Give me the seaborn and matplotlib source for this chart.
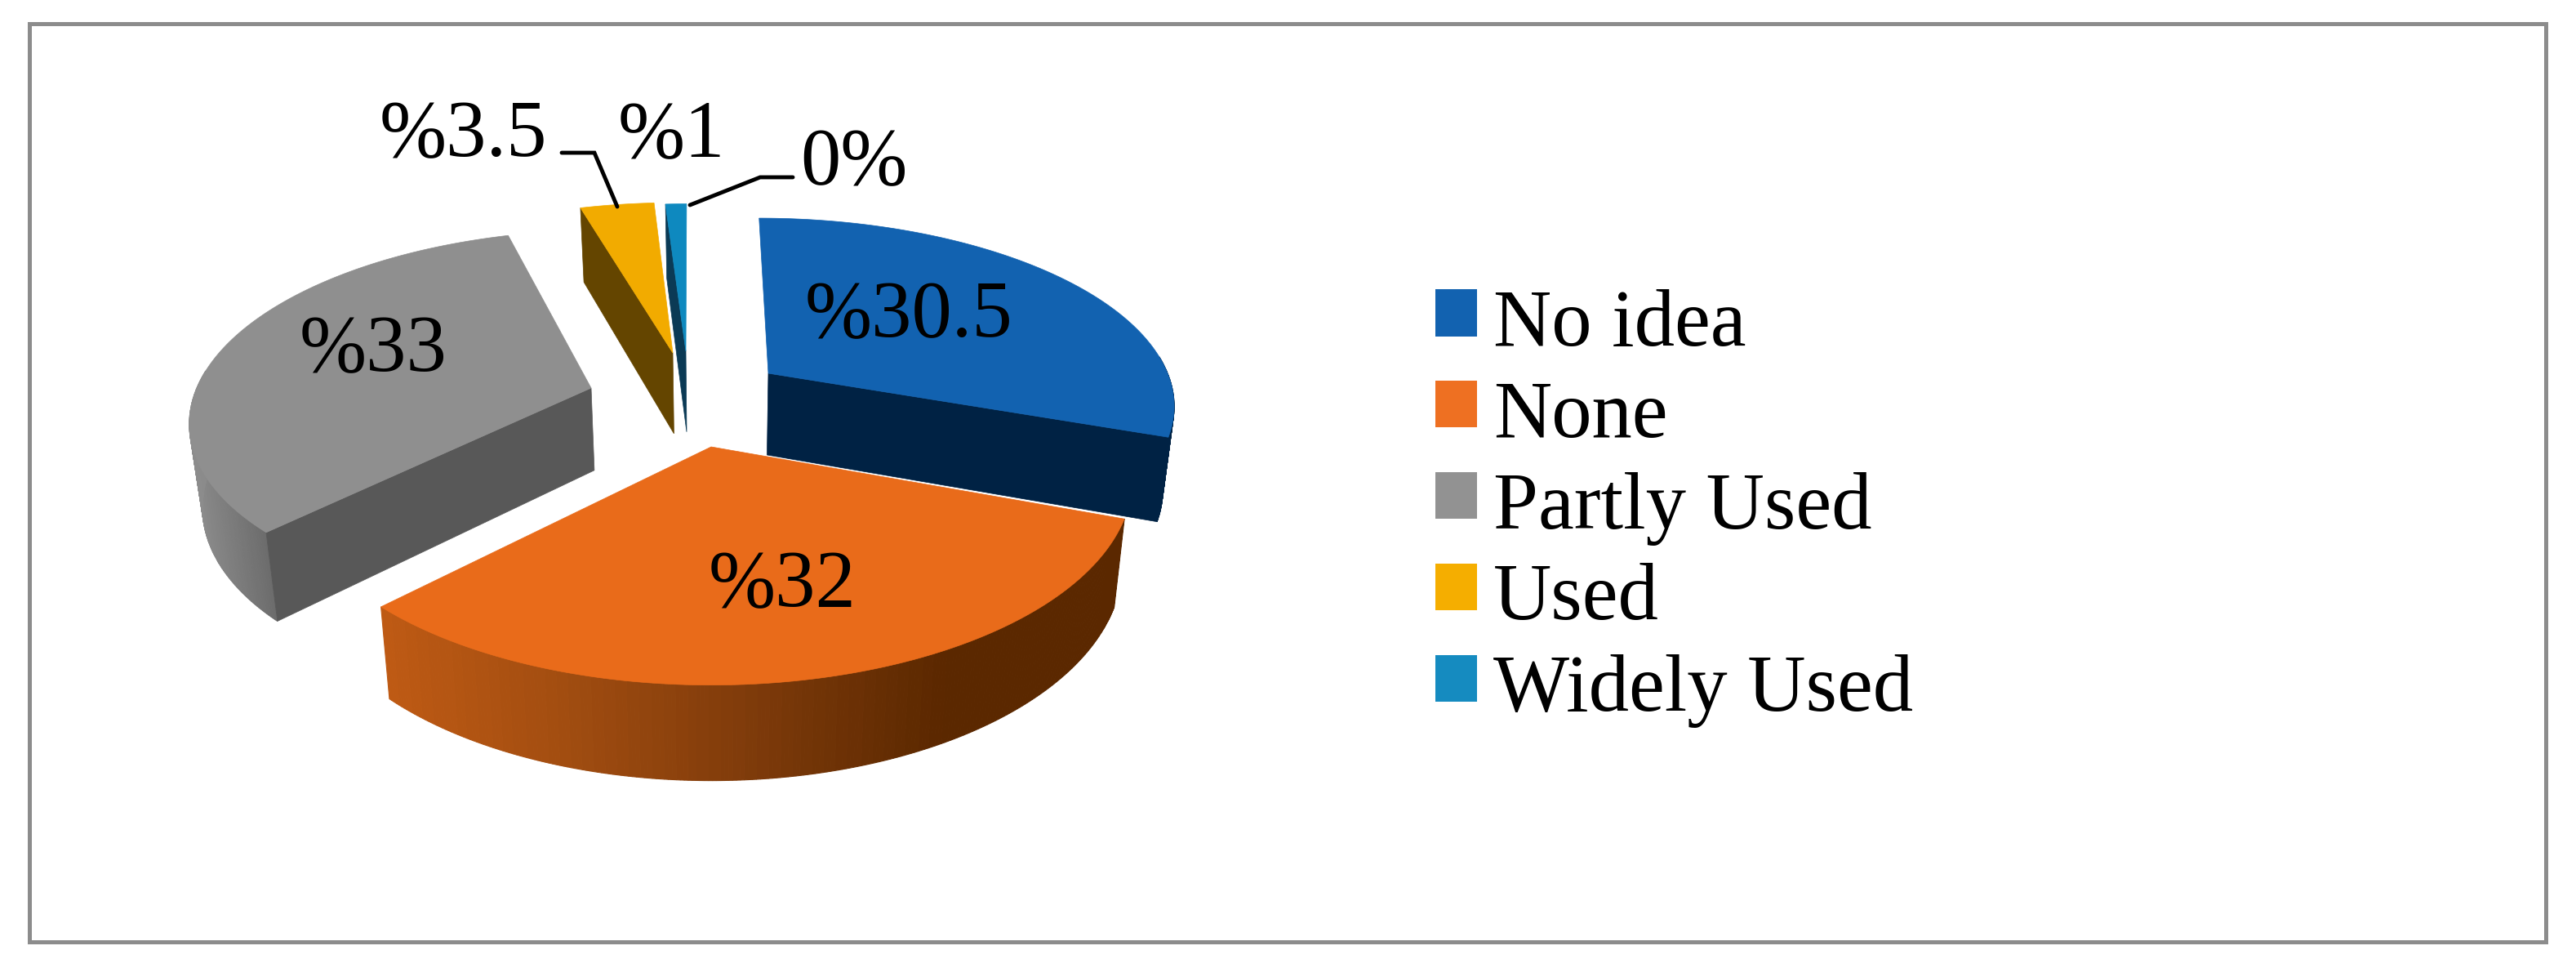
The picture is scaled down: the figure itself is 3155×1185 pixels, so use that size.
import numpy as np
import matplotlib
matplotlib.use("Agg")
import matplotlib.pyplot as plt
from matplotlib.patches import Patch, Rectangle
from matplotlib.legend_handler import HandlerPatch
import seaborn as sns

# ---- data ----
categories = ["No idea", "None", "Partly Used", "Used", "Widely Used"]
shares = [30.5, 32, 33, 3.5, 1]
slice_labels = ["%30.5", "%32", "%33", "%3.5", "%1"]
zero_label = "0%"

# ---- style ----
W, H, DPI = 3155, 1185, 100
top_colors = ["#1262B0", "#E96B1A", "#8F8F8F", "#F2AB00", "#0E89BF"]
legend_colors = ["#1262B0", "#EE7022", "#929292", "#F5AE00", "#158BC0"]
cut_colors = ["#002244", "#5B2800", "#585858", "#644500", "#0B3A55"]
wall_stops = [["#002244", "#002244"],
              ["#5B2800", "#5B2800", "#7D3A0A", "#A04C10", "#BE5A14"],
              ["#6C6C6C", "#7C7C7C", "#8C8C8C"],
              ["#644500", "#644500"],
              ["#0B3A55", "#0B3A55"]]
apex = [(941, 457), (871, 547), (724, 475), (824, 432), (840, 430)]
radius_x = [489, 510, 483, 477, 474]
radius_y = [219, 247, 223, 212, 208]
skew = [-13, 0, 19, 3.5, 1]
cut_visible = [True, False, True, True, True]
persp = 0.153
vanish_x, shrink = 880, 0.975
FS = 71
FRAME = (35.5, 28.5, 3118, 1153)
FRAME_COL = "#8C8C8C"

sns.set_theme(style="white")
plt.rcParams["font.family"] = ["Liberation Serif", "DejaVu Serif"]

fig = plt.figure(figsize=(W / DPI, H / DPI), dpi=DPI, facecolor="white")
ax = fig.add_axes([FRAME[0] / W, 1 - FRAME[3] / H,
                   (FRAME[2] - FRAME[0]) / W, (FRAME[3] - FRAME[1]) / H])
ax.set_xlim(FRAME[0], FRAME[2])
ax.set_ylim(FRAME[3], FRAME[1])
ax.set_xticks([])
ax.set_yticks([])
for s in ax.spines.values():
    s.set_color(FRAME_COL)
    s.set_linewidth(3.6)


def top_point(i, theta):
    u, v = np.sin(theta), np.cos(theta)
    d = 1 + persp * v
    return (apex[i][0] + (radius_x[i] * u + skew[i] * v) / d,
            apex[i][1] - radius_y[i] * v / d)


def lower(x, y):
    return (vanish_x + (x - vanish_x) * shrink,
            y + 91 + 0.0447 * (y - 257))


edges = np.radians(np.concatenate([[0], np.cumsum(shares)]) * 3.6)

for i in [2, 3, 4, 0, 1]:
    t0, t1 = edges[i], edges[i + 1]
    ts = np.linspace(t0, t1, 241)
    # outer wall, only the part that faces the viewer
    vis = ts[np.cos(ts) < 0.1]
    if i == 2:
        vis = vis[vis < np.radians(283)]
    if len(vis) > 1:
        px, py = top_point(i, vis)
        order_x = (px - px.min()) / max(px.max() - px.min(), 1)
        pal = sns.blend_palette(wall_stops[i][::-1], n_colors=64)
        for k in range(len(vis) - 1):
            bx0, by0 = lower(px[k], py[k])
            bx1, by1 = lower(px[k + 1], py[k + 1])
            c = pal[int(order_x[k] * 63)]
            ax.fill([px[k], px[k + 1], bx1, bx0], [py[k], py[k + 1], by1, by0],
                    color=c, lw=0.8, zorder=i + 1)
    # flat cut face
    if cut_visible[i]:
        edge_t = t1 if i == 0 else t0
        ex, ey = top_point(i, edge_t)
        ax_, ay_ = apex[i]
        bex, bey = lower(ex, ey)
        bax, bay = lower(ax_, ay_)
        ax.fill([ax_, ex, bex, bax], [ay_, ey, bey, bay],
                color=cut_colors[i], lw=0.5, zorder=i + 1)
    # top face
    px, py = top_point(i, ts)
    ax.fill(np.r_[apex[i][0], px], np.r_[apex[i][1], py],
            color=top_colors[i], lw=0.5, zorder=i + 1.5)

# data labels
txt = dict(color="black", fontsize=FS, zorder=20)
label_pos = [(1113, 388), (958, 718), (457, 430)]
for s, (x, y) in zip(slice_labels[:3], label_pos):
    ax.text(x, y, s, ha="center", va="center", **txt)
ax.text(567, 191, slice_labels[3], ha="center", va="baseline", **txt)
ax.text(822, 191, slice_labels[4], ha="center", va="baseline", **txt)
ax.text(1046, 225, zero_label, ha="center", va="baseline", **txt)
ax.plot([688, 728, 756], [187, 187, 253], color="black", lw=3.5, zorder=20,
        solid_joinstyle="miter")
ax.plot([845, 931, 971], [251, 217, 217], color="black", lw=3.5, zorder=20,
        solid_joinstyle="miter")


# legend
def square(legend, orig_handle, xdescent, ydescent, width, height, fontsize):
    return Rectangle((-xdescent, -ydescent + 3.6), width, height)


handles = [Patch(facecolor=c, edgecolor="none") for c in legend_colors]
leg = ax.legend(handles, categories, fontsize=FS, frameon=False,
                loc="upper left", bbox_to_anchor=(1758, 354),
                bbox_transform=ax.transData,
                borderpad=0, borderaxespad=0,
                handlelength=51 / 98.6, handleheight=51 / 98.6,
                handletextpad=0.2, labelspacing=0.221,
                labelcolor="black",
                handler_map={Patch: HandlerPatch(patch_func=square)})

sns.despine(ax=ax, top=False, right=False, left=False, bottom=False)
fig.savefig("out.png", dpi=DPI, facecolor="white")
